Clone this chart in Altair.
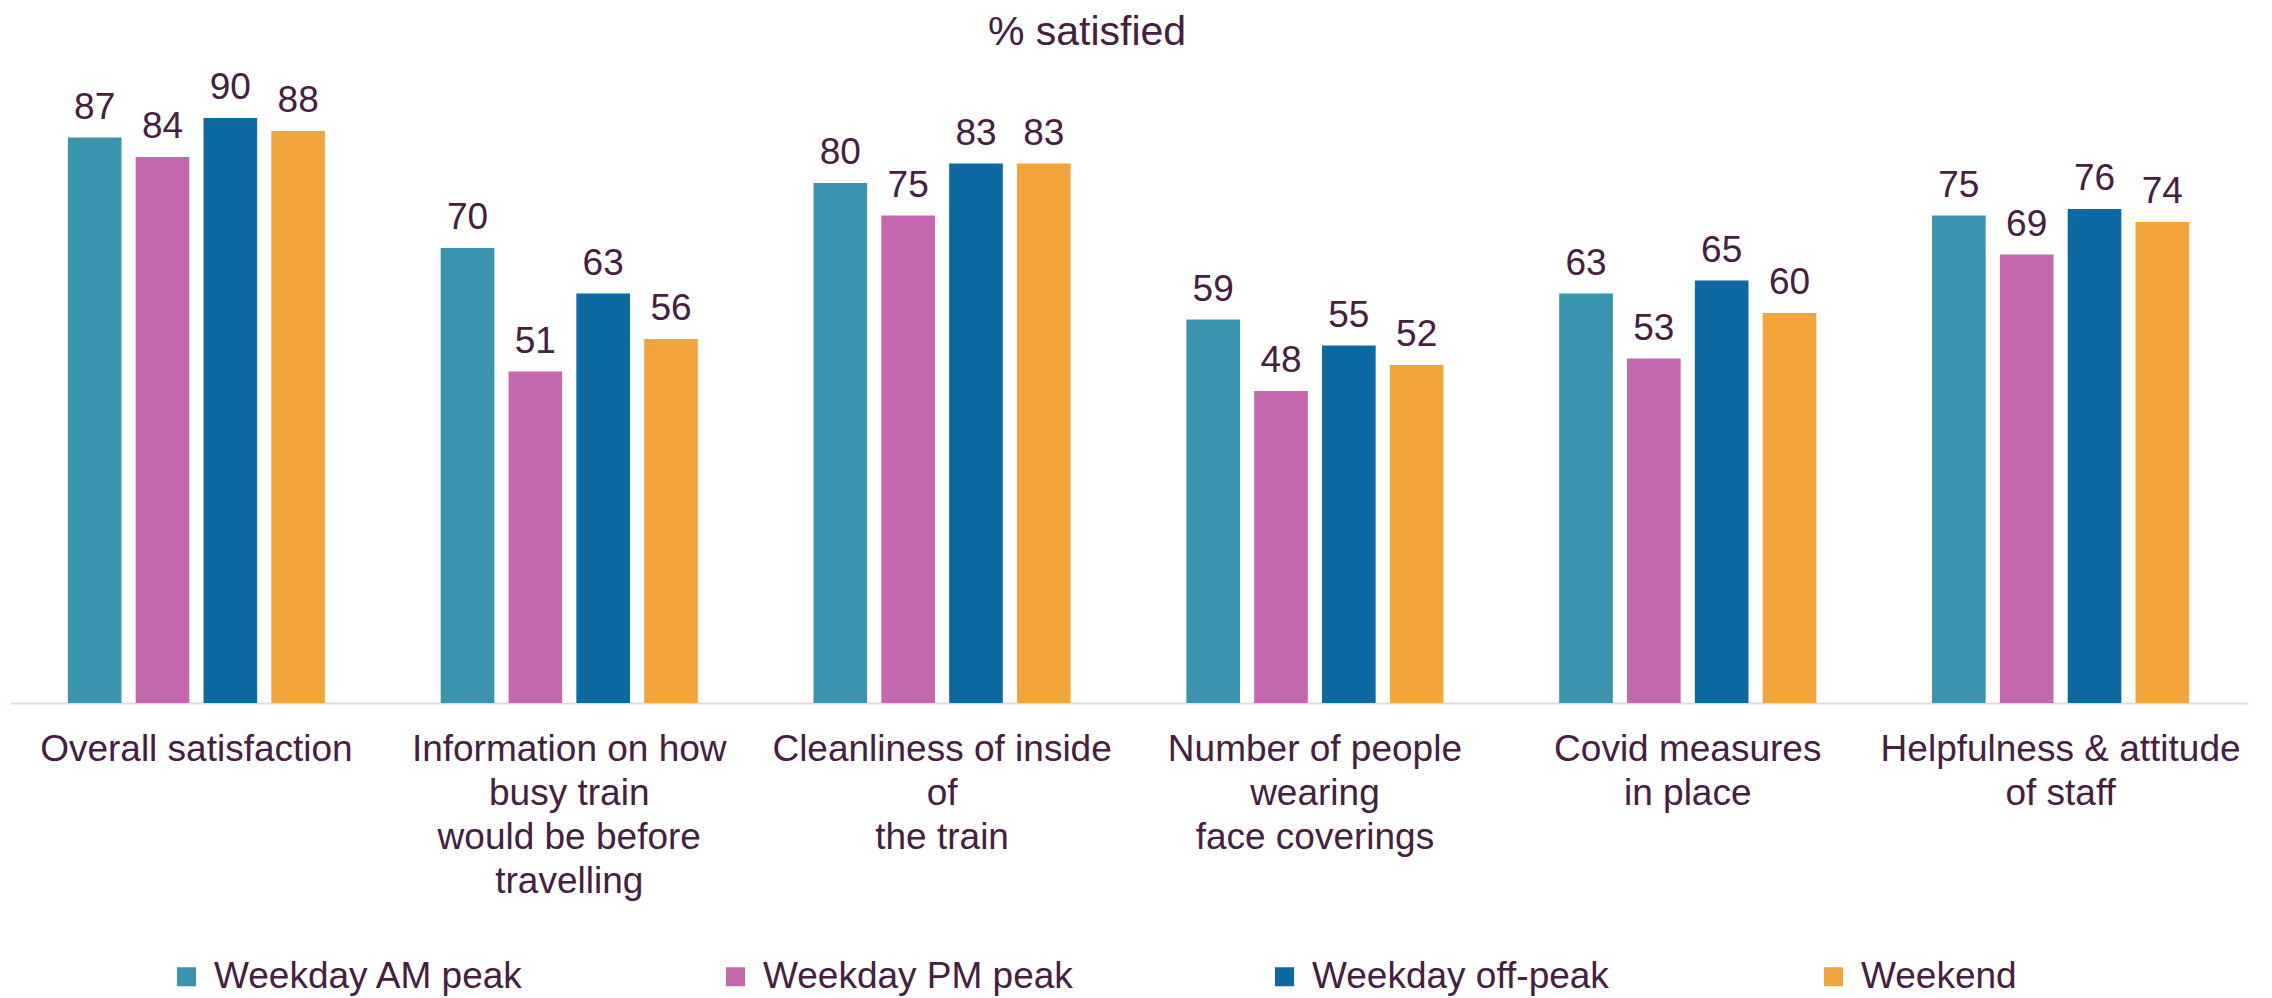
import altair as alt
import pandas as pd

title_text = ["% satisfied"]
categories = [
    "Overall satisfaction",
    "Information on how|busy train|would be before|travelling",
    "Cleanliness of inside|of|the train",
    "Number of people|wearing|face coverings",
    "Covid measures|in place",
    "Helpfulness & attitude|of staff",
]
series = ["Weekday AM peak", "Weekday PM peak", "Weekday off-peak", "Weekend"]
am_peak = [87, 70, 80, 59, 63, 75]
pm_peak = [84, 51, 75, 48, 53, 69]
off_peak = [90, 63, 83, 55, 65, 76]
weekend = [88, 56, 83, 52, 60, 74]
colors = ["#3A94AE", "#C467AF", "#0D69A2", "#F1A53B"]

rows = []
for s, vals in zip(series, [am_peak, pm_peak, off_peak, weekend]):
    for c, v in zip(categories, vals):
        rows.append({"category": c, "series": s, "value": v})
df = pd.DataFrame(rows)

FONT = "Liberation Sans"
TXT = "#45203F"

base = alt.Chart(df).encode(
    x=alt.X(
        "category:N",
        sort=categories,
        scale=alt.Scale(paddingInner=0, paddingOuter=0),
        axis=alt.Axis(
            title=None,
            labelAngle=0,
            labelFont=FONT,
            labelFontSize=37,
            labelColor=TXT,
            labelExpr="split(datum.label, '|')",
            labelLineHeight=44,
            labelBaseline="alphabetic",
            labelPadding=57,
            labelLimit=600,
            labelOverlap=False,
            labelBound=False,
            ticks=False,
            tickSize=0,
            domainColor="#EDD3E8",
            domainWidth=2,
            grid=False,
        ),
    ),
    xOffset=alt.XOffset(
        "series:N", sort=series,
        scale=alt.Scale(paddingInner=0.209, paddingOuter=0.853),
    ),
    y=alt.Y("value:Q", scale=alt.Scale(domain=[0, 100]), axis=None),
)

bars = base.mark_bar().encode(
    color=alt.Color(
        "series:N",
        sort=series,
        scale=alt.Scale(domain=series, range=colors),
        legend=alt.Legend(
            title=None,
            orient="none",
            direction="horizontal",
            legendX=158,
            legendY=905,
            symbolType="square",
            symbolSize=361,
            symbolStrokeWidth=0,
            labelFont=FONT,
            labelFontSize=37,
            labelColor=TXT,
            labelOffset=9,
            labelLimit=600,
            columnPadding=193,
            gridAlign="all",
            padding=0,
        ),
    )
)

labels = base.mark_text(
    dy=-19, baseline="alphabetic", fontSize=37, font=FONT, color=TXT
).encode(text="value:Q")

title = (
    alt.Chart(pd.DataFrame({"t": title_text}))
    .mark_text(font=FONT, fontSize=41, color=TXT, baseline="alphabetic", align="center")
    .encode(text="t:N", x=alt.value(1077), y=alt.value(-8))
)

chart = (
    alt.layer(bars, labels, title)
    .properties(
        width=2237,
        height=650,
        autosize="none",
        padding={"left": 2, "top": 45, "right": 17, "bottom": 295},
    )
    .configure_view(stroke=None)
)

chart.save("out.html", embed_options={"renderer": "svg", "actions": False})
